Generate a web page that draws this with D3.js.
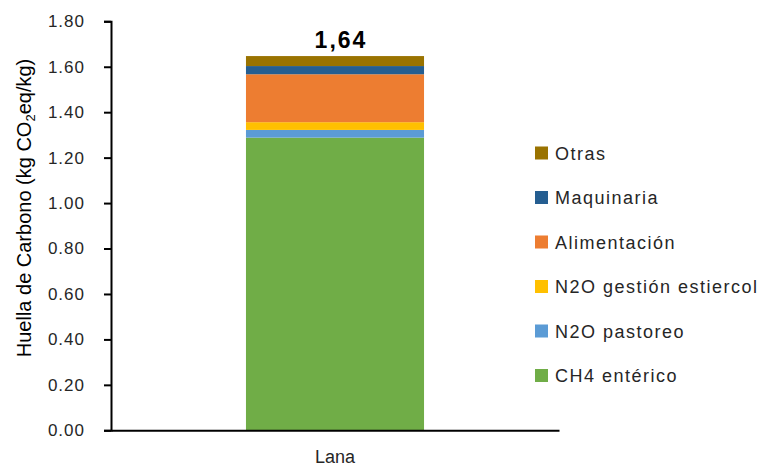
<!DOCTYPE html>
<html>
<head>
<meta charset="utf-8">
<script src="https://cdn.jsdelivr.net/npm/d3@7"></script>
<style>
  html, body { margin: 0; padding: 0; background: #fff; }
  svg { display: block; }
  text { font-family: "Liberation Sans", Arial, sans-serif; }
</style>
</head>
<body>
<svg id="chart" width="766" height="470"></svg>
<script>
const categories = ["Lana"];
const seriesNames = ["CH4 entérico", "N2O pastoreo", "N2O gestión estiercol", "Alimentación", "Maquinaria", "Otras"];
const seriesValues = [1.288, 0.034, 0.034, 0.211, 0.036, 0.044];
const seriesColors = ["#70AD47", "#5B9BD5", "#FFC000", "#ED7D31", "#255E91", "#9A7300"];
const totalLabel = "1,64";
const yTicks = [0, 0.2, 0.4, 0.6, 0.8, 1.0, 1.2, 1.4, 1.6, 1.8];

const svg = d3.select("#chart");
const margin = {left: 111, right: 207, top: 21.3, bottom: 39.7};
const W = 766, H = 470;

const x = d3.scaleBand().domain(categories)
  .range([margin.left, W - margin.right])
  .paddingInner(0).paddingOuter(0.758);
const y = d3.scaleLinear().domain([0, 1.8]).range([H - margin.bottom, margin.top]);

// stacked data
const row = {cat: categories[0]};
seriesNames.forEach((n, i) => row[n] = seriesValues[i]);
const stack = d3.stack().keys(seriesNames)([row]);

svg.append("g").selectAll("rect")
  .data(stack)
  .join("rect")
  .attr("x", d => x(d[0].data.cat))
  .attr("width", x.bandwidth())
  .attr("y", d => y(d[0][1]))
  .attr("height", d => y(d[0][0]) - y(d[0][1]))
  .attr("fill", (d, i) => seriesColors[i]);

// y axis
const yAxis = d3.axisLeft(y).tickValues(yTicks).tickFormat(d3.format(".2f"))
  .tickSize(7).tickPadding(19);
const gy = svg.append("g").attr("transform", `translate(${margin.left},0)`).call(yAxis);
gy.select(".domain").attr("stroke", "#000").attr("stroke-width", 2);
gy.selectAll(".tick line").attr("stroke", "#000").attr("stroke-width", 2);
gy.selectAll(".tick text").attr("font-size", 17).attr("fill", "#262626")
  .attr("letter-spacing", "1px")
  .attr("font-family", "Liberation Sans, Arial, sans-serif");

// x axis
const xAxis = d3.axisBottom(x).tickSize(0).tickPadding(20);
const gx = svg.append("g").attr("transform", `translate(0,${y(0)})`).call(xAxis);
gx.select(".domain").attr("stroke", "#000").attr("stroke-width", 2);
gx.selectAll(".tick text").attr("font-size", 18).attr("fill", "#262626")
  .attr("font-family", "Liberation Sans, Arial, sans-serif");

// total label
const total = d3.sum(seriesValues);
svg.append("text")
  .attr("x", x(categories[0]) + x.bandwidth() / 2 + 6)
  .attr("y", y(total) - 8)
  .attr("text-anchor", "middle")
  .attr("font-size", 23).attr("font-weight", "bold")
  .attr("letter-spacing", "2px")
  .attr("fill", "#000")
  .text(totalLabel);

// y axis title
const yt = svg.append("text")
  .attr("transform", "translate(31,208) rotate(-90)")
  .attr("text-anchor", "middle")
  .attr("font-size", 20).attr("fill", "#000");
yt.append("tspan").text("Huella de Carbono (kg CO");
yt.append("tspan").attr("font-size", 13).attr("dy", 4).text("2");
yt.append("tspan").attr("dy", -4).text("eq/kg)");

// legend (reverse order, top = Otras)
const legendItems = seriesNames.map((n, i) => ({name: n, color: seriesColors[i]})).reverse();
const lg = svg.append("g").selectAll("g").data(legendItems).join("g")
  .attr("transform", (d, i) => `translate(535,${153 + i * 44.5})`);
lg.append("rect").attr("x", 0).attr("y", -6.5).attr("width", 13).attr("height", 13)
  .attr("fill", d => d.color);
lg.append("text").attr("x", 20).attr("y", 6.5)
  .attr("font-size", 18).attr("fill", "#262626")
  .attr("letter-spacing", "1.5px")
  .text(d => d.name);
</script>
</body>
</html>
